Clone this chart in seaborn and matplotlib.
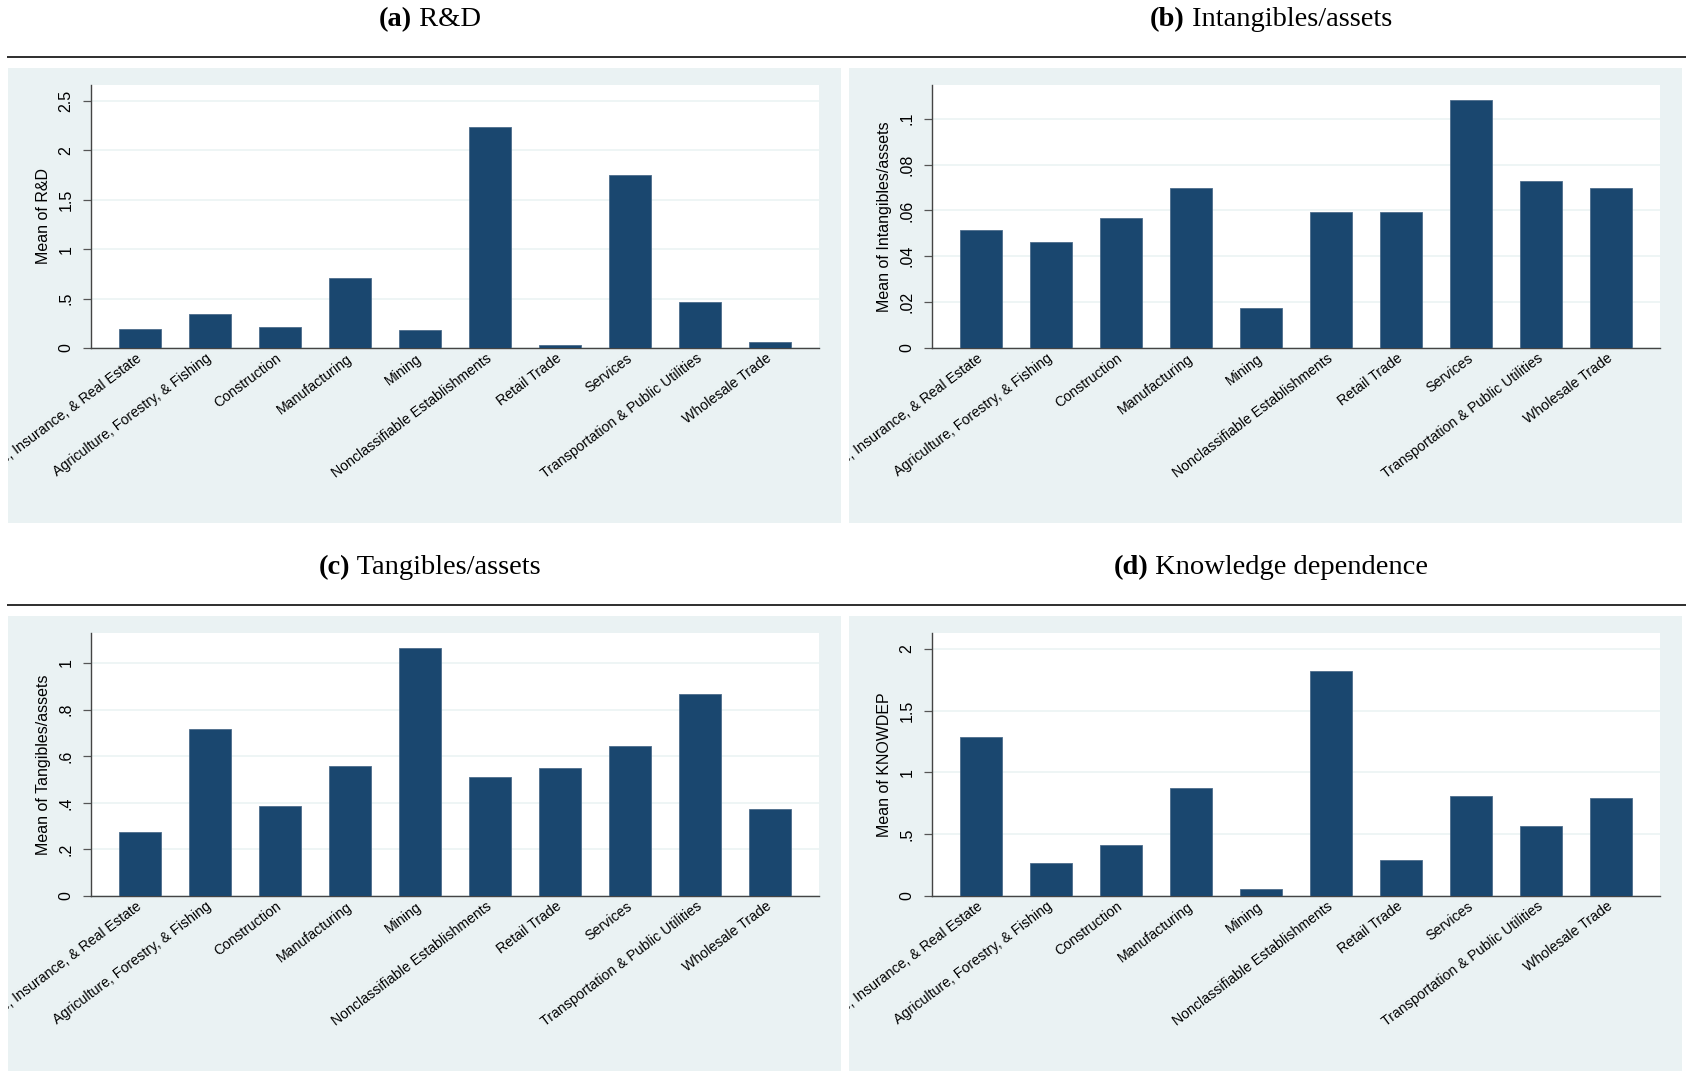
import matplotlib
matplotlib.use("Agg")
import matplotlib.pyplot as plt
from matplotlib.patches import Rectangle
from matplotlib.lines import Line2D
from matplotlib.transforms import Bbox, TransformedBbox
import seaborn as sns
import pandas as pd

# Industry divisions (SIC), in plotting order
industries = [
    "Finance, Insurance, & Real Estate",
    "Agriculture, Forestry, & Fishing",
    "Construction",
    "Manufacturing",
    "Mining",
    "Nonclassifiable Establishments",
    "Retail Trade",
    "Services",
    "Transportation & Public Utilities",
    "Wholesale Trade",
]

# Mean of each firm characteristic by industry
rd_mean = [0.195, 0.34, 0.21, 0.71, 0.185, 2.24, 0.03, 1.75, 0.465, 0.058]
intangibles_mean = [0.0515, 0.0462, 0.0568, 0.0699, 0.0174, 0.0594, 0.0591, 0.108, 0.073, 0.0699]
tangibles_mean = [0.274, 0.719, 0.387, 0.56, 1.063, 0.51, 0.548, 0.643, 0.866, 0.375]
knowdep_mean = [1.291, 0.269, 0.409, 0.871, 0.056, 1.818, 0.294, 0.812, 0.563, 0.79]

# y-axis ticks and their labels for each panel
rd_ticks = [0, 0.5, 1, 1.5, 2, 2.5]
rd_ticklabels = ["0", ".5", "1", "1.5", "2", "2.5"]
int_ticks = [0, 0.02, 0.04, 0.06, 0.08, 0.1]
int_ticklabels = ["0", ".02", ".04", ".06", ".08", ".1"]
tan_ticks = [0, 0.2, 0.4, 0.6, 0.8, 1.0]
tan_ticklabels = ["0", ".2", ".4", ".6", ".8", "1"]
kd_ticks = [0, 0.5, 1, 1.5, 2]
kd_ticklabels = ["0", ".5", "1", "1.5", "2"]

panel_letters = ["(a)", "(b)", "(c)", "(d)"]
panel_titles = ["R&D", "Intangibles/assets", "Tangibles/assets", "Knowledge dependence"]
y_titles = ["Mean of R&D", "Mean of Intangibles/assets",
            "Mean of Tangibles/assets", "Mean of KNOWDEP"]

BAR = "#1a476f"
REGION = "#eaf2f3"

plt.rcParams["font.family"] = ["Liberation Sans", "DejaVu Sans"]

W, H = 1686, 1073
fig = plt.figure(figsize=(W / 100, H / 100), dpi=100)
fig.patch.set_facecolor("white")


def fx(px):
    return px / W


def fy(py):
    return 1 - py / H


panels = [
    (rd_mean, rd_ticks, rd_ticklabels, 2.662),
    (intangibles_mean, int_ticks, int_ticklabels, 0.1147),
    (tangibles_mean, tan_ticks, tan_ticklabels, 1.129),
    (knowdep_mean, kd_ticks, kd_ticklabels, 2.129),
]

renderer = fig.canvas.get_renderer()

for i, (vals, ticks, ticklabels, ytop) in enumerate(panels):
    col, row = i % 2, i // 2
    dx, dy = 841 * col, 548 * row

    # graph region background
    bg_x0, bg_x1 = 8 + dx, 841 + dx
    bg_y0, bg_y1 = 68 + dy, 523 + dy
    fig.add_artist(Rectangle((fx(bg_x0), fy(bg_y1)), fx(bg_x1) - fx(bg_x0),
                             fy(bg_y0) - fy(bg_y1), transform=fig.transFigure,
                             facecolor=REGION, edgecolor="none", zorder=0))

    # rule under the sub-caption
    fig.add_artist(Line2D([fx(8), 1.0], [fy(57 + dy), fy(57 + dy)],
                          transform=fig.transFigure, color="#333333", lw=1.4))

    # sub-caption: bold letter followed by regular text, centred as a unit
    cx = 430 + dx
    t1 = fig.text(0, fy(26.5 + dy), panel_letters[i], fontsize=20.5,
                  fontweight="bold", family="Liberation Serif", va="baseline")
    t2 = fig.text(0, fy(26.5 + dy), " " + panel_titles[i], fontsize=20.5,
                  family="Liberation Serif", va="baseline")
    w1 = t1.get_window_extent(renderer).width
    w2 = t2.get_window_extent(renderer).width
    left = cx - (w1 + w2) / 2
    t1.set_x(fx(left))
    t2.set_x(fx(left + w1))

    # plot region
    ax_x0, ax_x1 = 90.7 + dx, 819 + dx
    ax_y0, ax_y1 = 85 + dy, 348 + dy
    ax = fig.add_axes([fx(ax_x0), fy(ax_y1), fx(ax_x1) - fx(ax_x0), fy(ax_y0) - fy(ax_y1)])
    ax.set_facecolor("white")

    df = pd.DataFrame({"industry": industries, "value": vals})
    sns.barplot(data=df, x="industry", y="value", order=industries, ax=ax,
                color=BAR, saturation=1, width=0.6, edgecolor="#4d6d8c",
                linewidth=0.6, zorder=3)

    ax.set_xlim(-0.704, 9.696)
    ax.set_ylim(0, ytop)
    ax.set_yticks(ticks)
    ax.set_yticklabels(ticklabels)
    ax.grid(axis="y", color=REGION, lw=1.1, zorder=0)
    ax.set_axisbelow(True)
    for s in ["top", "right"]:
        ax.spines[s].set_visible(False)
    for s in ["left", "bottom"]:
        ax.spines[s].set_color("#444444")
        ax.spines[s].set_linewidth(1.0)

    ax.tick_params(axis="y", length=5.8, width=0.9, color="#555555", pad=6.5,
                   labelsize=11.5, labelrotation=90)
    for lab in ax.get_yticklabels():
        lab.set_va("center")
        lab.set_ha("right")

    ax.set_xticks(range(len(industries)))
    ax.set_xticklabels(industries, rotation=37, ha="right", va="center",
                       rotation_mode="anchor", fontsize=10.2)
    ax.tick_params(axis="x", length=0, pad=6.5)
    # category labels are cut at the edge of their graph region
    clip = TransformedBbox(Bbox.from_extents(fx(bg_x0), fy(bg_y1), fx(bg_x1), fy(bg_y0)),
                           fig.transFigure)
    for lab in ax.get_xticklabels():
        lab.set_clip_on(True)
        lab.set_clip_box(clip)

    ax.set_xlabel("")
    ax.set_ylabel(y_titles[i], fontsize=11.5)
    ax.yaxis.label.set_va("center")
    ax.yaxis.set_label_coords((44 - 90.7) / 728, 0.5)

fig.savefig("out.png", dpi=100, facecolor="white")
